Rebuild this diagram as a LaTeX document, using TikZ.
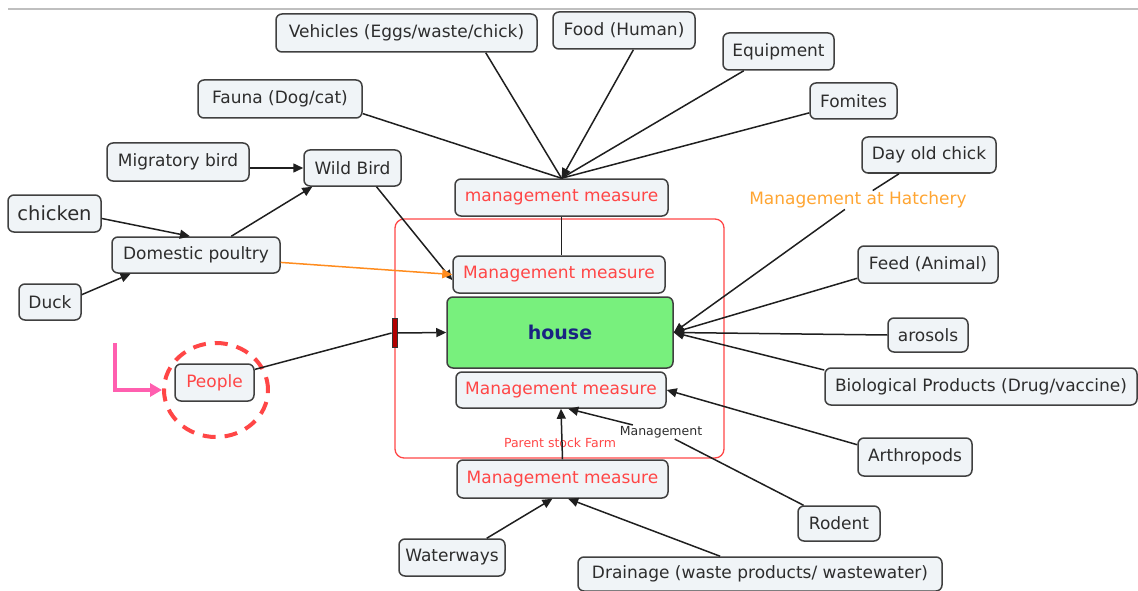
\documentclass[tikz,border=0pt]{standalone}
\usepackage{fontspec}
\setmainfont{DejaVu Sans}
\usetikzlibrary{arrows.meta,shapes.geometric}
\definecolor{boxfill}{RGB}{240,244,247}
\definecolor{boxtext}{RGB}{45,45,45}
\definecolor{mred}{RGB}{255,70,70}
\definecolor{morange}{RGB}{255,165,50}
\definecolor{orline}{RGB}{255,140,30}
\definecolor{hgreen}{RGB}{120,240,125}
\definecolor{hblue}{RGB}{25,35,130}
\definecolor{hpink}{RGB}{255,95,175}
\tikzset{
  cbox/.style={draw=black!75, line width=1.5pt, rounded corners=6pt, fill=boxfill,
    inner sep=0pt, text=boxtext, font=\fontsize{17}{19}\selectfont},
  mbox/.style={cbox, text=mred},
  conn/.style={line width=1.5pt, draw=black!88},
  arr/.style={conn, -{Triangle[length=10pt,width=9pt]}},
  lbl/.style={inner sep=1pt}
}
\begin{document}
\begin{tikzpicture}[x=1pt,y=-1pt]
\useasboundingbox (0,0) rectangle (1138,591);
\draw[black!25, line width=1.5pt] (8,9) -- (1138,9);
% farm frame
\draw[mred, line width=1.3pt, rounded corners=9pt] (395,219) rectangle (724,458);

% nodes
\node[cbox, minimum width=261, minimum height=38] (veh) at (406.5,33) {Vehicles (Eggs/waste/chick)};
\node[cbox, minimum width=142, minimum height=37] (food) at (624,30.5) {Food (Human)};
\node[cbox, minimum width=111, minimum height=37] (equip) at (778.5,51.5) {Equipment};
\node[cbox, minimum width=87, minimum height=36] (fom) at (853.5,101) {Fomites};
\node[cbox, minimum width=164, minimum height=38] (fauna) at (280,99) {Fauna (Dog/cat)};
\node[cbox, minimum width=142, minimum height=38] (migr) at (178,162) {Migratory bird};
\node[cbox, minimum width=97, minimum height=36] (wild) at (352.5,168) {Wild Bird};
\node[cbox, minimum width=93, minimum height=37, font=\fontsize{19.5}{22}\selectfont] (chick) at (54.5,213.5) {chicken};
\node[cbox, minimum width=168, minimum height=36] (dom) at (196,255) {Domestic poultry};
\node[cbox, minimum width=62, minimum height=36] (duck) at (50,302) {Duck};
\node[mbox, minimum width=213, minimum height=37] (mm1) at (561.5,197.5) {management measure};
\node[mbox, minimum width=212, minimum height=37] (mm2) at (559,274.5) {Management measure};
\node[cbox, fill=hgreen, minimum width=226, minimum height=71, text=hblue, font=\fontsize{19}{22}\selectfont\bfseries] (house) at (560,332.5) {house};
\node[mbox, minimum width=210, minimum height=36] (mm3) at (561,390) {Management measure};
\node[mbox, minimum width=211, minimum height=38] (mm4) at (562.5,479) {Management measure};
\node[mbox, minimum width=79, minimum height=37] (people) at (214.5,382.5) {People};
\node[draw=mred, dashed, dash pattern=on 13pt off 9pt, line width=4pt, ellipse, minimum width=104, minimum height=94, inner sep=0pt] (ring) at (216,390) {};
\node[draw=black!80, fill=red!70!black, line width=0.8pt, minimum width=5, minimum height=29, inner sep=0pt] (gate) at (394.5,333) {};
\node[cbox, minimum width=134, minimum height=36] (day) at (929,155) {Day old chick};
\node[lbl, text=morange, font=\fontsize{17}{19}\selectfont] (hatch) at (858,200) {Management at Hatchery};
\node[cbox, minimum width=140, minimum height=37] (feed) at (928,264.5) {Feed (Animal)};
\node[cbox, minimum width=80, minimum height=34] (aro) at (928,335) {arosols};
\node[cbox, minimum width=312, minimum height=37] (bio) at (981,386.5) {Biological Products (Drug/vaccine)};
\node[cbox, minimum width=114, minimum height=38] (arth) at (915,457) {Arthropods};
\node[cbox, minimum width=82, minimum height=35] (rod) at (839,523.5) {Rodent};
\node[cbox, minimum width=106, minimum height=37] (water) at (452,557.5) {Waterways};
\node[cbox, minimum width=364, minimum height=34] (drain) at (760,574) {Drainage (waste products/ wastewater)};
\node[lbl, text=boxtext, font=\fontsize{12.5}{14}\selectfont] (mgmt) at (661,432) {Management};
\node[lbl, text=mred, font=\fontsize{12.5}{14}\selectfont] (psf) at (560,443) {Parent stock Farm};
\coordinate (pk) at (115,343);

% connectors
\draw[conn] (veh.-14) -- (mm1.north);
\draw[conn] (fauna.-10) -- (mm1.north);
\draw[arr] (food.-64) -- (mm1.north);
\draw[conn] (equip.-151) -- (mm1.north);
\draw[conn] (fom.-165) -- (mm1.north);
\draw[conn, line width=1pt] (mm1.south) -- (mm1.south |- mm2.north);
\draw[arr] (migr.east |- wild.west) -- (wild.west);
\draw[arr] (chick.-6) -- (dom.108);
\draw[arr] (duck.13) -- (dom.196);
\draw[arr] (dom.28) -- (wild.205);
\draw[arr] (wild.-38) -- (mm2.183);
\draw[arr, draw=orline, fill=orline] (dom.-5) -- (mm2.west);
\draw[conn] (people.18) -- (gate.west);
\draw[arr] (gate.east) -- (house.west);
\draw[draw=hpink, line width=3.5pt, -{Triangle[length=12pt,width=13pt]}] (pk) |- (ring.west);
\draw[conn] (day.212) -- (hatch);
\draw[arr] (hatch) -- (house.east);
\draw[arr] (feed.191) -- (house.east);
\draw[arr] (aro.west) -- (house.east);
\draw[arr] (bio.174) -- (house.east);
\draw[arr] (arth.168) -- (mm3.east);
\draw[conn] (rod) -- (mgmt);
\draw[arr] (mgmt) -- (mm3.-69);
\draw[arr] (mm4.north) -- (mm3.south);
\draw[arr] (water.29) -- (mm4.243);
\draw[arr] (drain.156) -- (mm4.-74);
\end{tikzpicture}
\end{document}
